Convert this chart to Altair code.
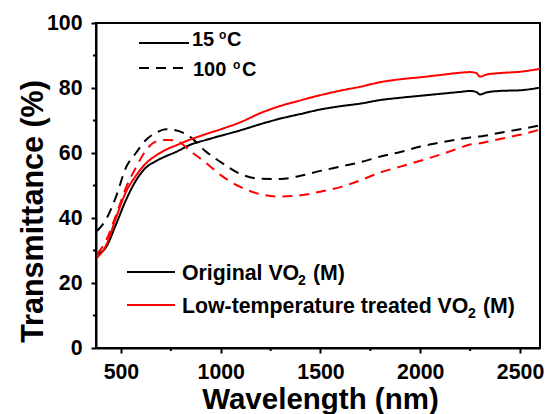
import altair as alt
import pandas as pd

# ---------------- data ----------------
wavelength = [380, 425, 475, 525, 575, 625, 675, 725, 775, 850, 925, 1000, 1100, 1200,
              1300, 1400, 1500, 1600, 1700, 1800, 1900, 2000, 2100, 2200, 2250, 2280,
              2300, 2330, 2400, 2500, 2600]

orig_15 = [28.9, 31.0, 38.0, 45.5, 51.5, 55.5, 57.5, 59.0, 60.3, 62.6, 64.0, 65.3, 67.0, 68.9,
           70.6, 72.0, 73.4, 74.4, 75.2, 76.3, 77.0, 77.6, 78.2, 78.8, 79.1, 78.8,
           78.0, 78.6, 79.1, 79.3, 80.1]
lt_15 = [27.8, 31.5, 40.0, 48.0, 53.0, 56.8, 59.2, 61.0, 62.3, 64.2, 65.8, 67.3, 69.5, 72.3,
         74.5, 76.2, 77.8, 79.2, 80.4, 81.8, 82.7, 83.3, 84.0, 84.7, 84.9, 84.6,
         83.5, 84.1, 84.6, 85.0, 85.9]
orig_100 = [36.0, 39.5, 46.5, 55.5, 60.0, 64.0, 66.2, 67.3, 67.0, 64.8, 60.5, 57.2, 53.5, 52.1,
            52.0, 53.0, 54.5, 55.8, 57.2, 58.9, 60.3, 62.0, 63.2, 64.3, 64.8, 65.0,
            65.1, 65.4, 66.2, 67.3, 68.5]
lt_100 = [28.9, 33.0, 40.8, 49.3, 55.5, 60.8, 63.5, 64.0, 63.8, 60.5, 57.0, 53.2, 49.5, 47.3,
          46.6, 47.0, 48.1, 49.5, 51.6, 54.0, 55.8, 57.6, 59.5, 61.6, 62.6, 62.8,
          63.0, 63.4, 64.3, 65.6, 67.2]

samples = ["Original", "Low-temperature"]
temps = ["15", "100"]
x_ticks = [500, 1000, 1500, 2000, 2500]
x_minor = [750, 1250, 1750, 2250]
y_ticks = [0, 20, 40, 60, 80, 100]
y_minor = [10, 30, 50, 70, 90]

rows = []
for sample, temp, vals in [("Original", "15", orig_15), ("Original", "100", orig_100),
                           ("Low-temperature", "15", lt_15), ("Low-temperature", "100", lt_100)]:
    for w, v in zip(wavelength, vals):
        rows.append({"wavelength": w, "T": v, "sample": sample, "temp": temp,
                     "series": sample + "_" + temp})
df = pd.DataFrame(rows)

FONT = "Liberation Sans"
W, H = 444, 325
DASH = [10, 7]

x_scale = alt.Scale(domain=[375, 2600], nice=False, zero=False)
y_scale = alt.Scale(domain=[0, 100], nice=False)

x_axis = alt.Axis(values=x_ticks, format="d", title="Wavelength (nm)",
                  titleX=224, titleY=60, titleBaseline="alphabetic", labelPadding=8)
y_axis = alt.Axis(values=y_ticks, format="d", title="Transmittance (%)",
                  titleX=-54, titleY=188, titleAngle=270, titleFontSize=30.5,
                  titleBaseline="alphabetic", labelPadding=9)

X = alt.X("wavelength:Q", scale=x_scale, axis=x_axis)
Y = alt.Y("T:Q", scale=y_scale, axis=y_axis)

lines = alt.Chart(df).mark_line(strokeWidth=2, interpolate="monotone").encode(
    x=X, y=Y,
    color=alt.Color("sample:N", scale=alt.Scale(domain=samples, range=["#000000", "#ff0000"]),
                    legend=None),
    strokeDash=alt.StrokeDash("temp:N", scale=alt.Scale(domain=temps, range=[[1, 0], DASH]),
                              legend=None),
    detail="series:N",
)

xminor = alt.Chart(pd.DataFrame({"wavelength": x_minor})).mark_rule(
    color="black", strokeWidth=2).encode(
    x=X, y=alt.value(H), y2=alt.value(H + 3))

yminor = alt.Chart(pd.DataFrame({"T": y_minor})).mark_rule(
    color="black", strokeWidth=2).encode(
    y=Y, x=alt.value(-3), x2=alt.value(0))


def txt(s, x, y, size):
    return alt.Chart(pd.DataFrame({"k": [0]})).mark_text(
        text=s, font=FONT, fontWeight="bold", fontSize=size, align="left",
        baseline="alphabetic", color="black").encode(x=alt.value(x), y=alt.value(y))


def seg(x1, x2, y, color, dash=None):
    kw = dict(color=color, strokeWidth=2)
    if dash:
        kw["strokeDash"] = dash
    return alt.Chart(pd.DataFrame({"k": [0]})).mark_rule(**kw).encode(
        x=alt.value(x1), x2=alt.value(x2), y=alt.value(y))


legend = [
    # temperature legend
    seg(43, 93, 20, "black"),
    txt("15", 96, 23, 20), txt("o", 123, 15.5, 12), txt("C", 131, 23, 20),
    seg(43, 93, 45, "black", DASH),
    txt("100", 97, 53, 20), txt("o", 137, 46, 12), txt("C", 146, 53, 20),
    # sample legend
    seg(31, 79, 249, "black"),
    txt("Original VO", 86, 257, 21.3), txt("2", 202, 262, 14), txt("(M)", 217, 257, 21.3),
    seg(31, 79, 282, "#ff0000"),
    txt("Low-temperature treated VO", 86, 289.7, 21.3), txt("2", 372, 295, 14),
    txt("(M)", 387, 289.7, 21.3),
]

chart = alt.layer(lines, xminor, yminor, *legend).properties(
    width=W, height=H,
    autosize=alt.AutoSizeParams(type="none"),
    padding={"left": 96, "top": 23, "right": 15, "bottom": 66},
).configure_view(
    stroke="black", strokeWidth=2
).configure_axis(
    grid=False,
    domainColor="black", domainWidth=2,
    tickColor="black", tickWidth=2, tickSize=5,
    labelFont=FONT, labelFontWeight="bold", labelFontSize=21.3, labelColor="black",
    titleFont=FONT, titleFontWeight="bold", titleFontSize=29.5, titleColor="black",
)

chart.save("out.html", embed_options={"renderer": "svg", "actions": False})
